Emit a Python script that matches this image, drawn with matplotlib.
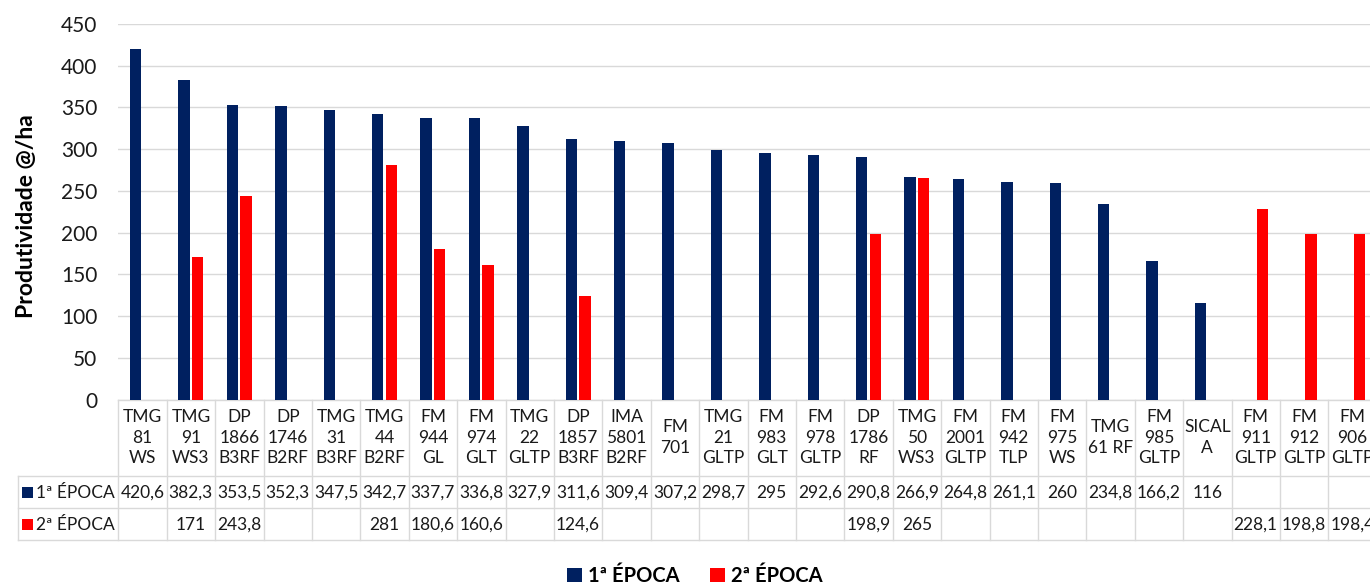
import matplotlib
matplotlib.use("Agg")
import matplotlib.pyplot as plt
import matplotlib.transforms as mtransforms
from matplotlib.patches import Patch, Rectangle
from matplotlib.lines import Line2D

plt.rcParams['font.family'] = ['Lato', 'DejaVu Sans']

categories = ["TMG\n81\nWS", "TMG\n91\nWS3", "DP\n1866\nB3RF", "DP\n1746\nB2RF", "TMG\n31\nB3RF",
              "TMG\n44\nB2RF", "FM\n944\nGL", "FM\n974\nGLT", "TMG\n22\nGLTP", "DP\n1857\nB3RF",
              "IMA\n5801\nB2RF", "FM\n701", "TMG\n21\nGLTP", "FM\n983\nGLT", "FM\n978\nGLTP",
              "DP\n1786\nRF", "TMG\n50\nWS3", "FM\n2001\nGLTP", "FM\n942\nTLP", "FM\n975\nWS",
              "TMG\n61 RF", "FM\n985\nGLTP", "SICAL\nA", "FM\n911\nGLTP", "FM\n912\nGLTP", "FM\n906\nGLTP"]
epoca1 = [420.6, 382.3, 353.5, 352.3, 347.5, 342.7, 337.7, 336.8, 327.9, 311.6, 309.4, 307.2, 298.7,
          295, 292.6, 290.8, 266.9, 264.8, 261.1, 260, 234.8, 166.2, 116, None, None, None]
epoca2 = [None, 171, 243.8, None, None, 281, 180.6, 160.6, None, 124.6, None, None, None,
          None, None, 198.9, 265, None, None, None, None, None, None, 228.1, 198.8, 198.4]
series_names = ["1ª ÉPOCA", "2ª ÉPOCA"]
yticks = [0, 50, 100, 150, 200, 250, 300, 350, 400, 450]

BLUE = "#002060"
RED = "#FF0000"
GRID = "#D9D9D9"
TXT = "#1A1A1A"

W, H = 1370, 582
fig = plt.figure(figsize=(W / 100, H / 100), dpi=100)

ax_l, ax_r, ax_t, ax_b = 118.3, 1376.7, 24.0, 399.5
ax = fig.add_axes([ax_l / W, 1 - ax_b / H, (ax_r - ax_l) / W, (ax_b - ax_t) / H])

n = len(categories)
xs = list(range(n))
bw = 0.235
off = 0.14
x1 = [x - off for x, v in zip(xs, epoca1) if v is not None]
v1 = [v for v in epoca1 if v is not None]
x2 = [x + off for x, v in zip(xs, epoca2) if v is not None]
v2 = [v for v in epoca2 if v is not None]
ax.bar(x1, v1, width=bw, color=BLUE, zorder=3)
ax.bar(x2, v2, width=bw, color=RED, zorder=3)

ax.set_xlim(-0.5, n - 0.5)
ax.set_ylim(0, 450)
ax.set_yticks(yticks)
ax.set_yticklabels([str(t) for t in yticks], fontsize=15, color=TXT)
ax.tick_params(axis='y', length=0, pad=15)
ax.set_xticks([])
ax.grid(axis='y', color=GRID, linewidth=1, zorder=0)
for s in ["left", "right", "top"]:
    ax.spines[s].set_visible(False)
ax.spines["bottom"].set_color(GRID)
ax.spines["bottom"].set_linewidth(1)
fig.text(27 / W, 1 - 216 / H, "Produtividade @/ha", rotation=90, fontsize=16.5, fontweight="bold",
         ha="center", va="center", color="#000000")

# data table
tr = mtransforms.blended_transform_factory(ax.transData, fig.transFigure)
def fy(py):
    return 1 - py / H

row_top, row1, row2, row_bot = 399.5, 476, 508, 540
lkw = dict(color=GRID, linewidth=1, clip_on=False)
for k in range(n + 1):
    fig.add_artist(Line2D([k - 0.5, k - 0.5], [fy(row_top), fy(row_bot)], transform=tr, **lkw))
for py in (row1, row2, row_bot):
    fig.add_artist(Line2D([18 / W, 1.2], [fy(py), fy(py)], transform=fig.transFigure, **lkw))
fig.add_artist(Line2D([18 / W, 18 / W], [fy(row1), fy(row_bot)], transform=fig.transFigure, **lkw))

tfs = 12.5
for k, lab in enumerate(categories):
    fig.text(k, fy((row_top + row1) / 2), lab, transform=tr, ha="center", va="center",
             fontsize=tfs, color=TXT, linespacing=1.35)

def fmt(v):
    if v is None:
        return ""
    if float(v).is_integer():
        return str(int(v))
    return ("%.1f" % v).replace(".", ",")

for vals, (ya, yb) in ((epoca1, (row1, row2)), (epoca2, (row2, row_bot))):
    for k, v in enumerate(vals):
        s = fmt(v)
        if s:
            fig.text(k, fy((ya + yb) / 2 + 1), s, transform=tr, ha="center", va="center",
                     fontsize=tfs, color=TXT)

for name, col, (ya, yb) in ((series_names[0], BLUE, (row1, row2)), (series_names[1], RED, (row2, row_bot))):
    cy = (ya + yb) / 2
    fig.add_artist(Rectangle((22 / W, fy(cy + 5.5)), 11 / W, 11 / H, transform=fig.transFigure,
                             facecolor=col, edgecolor="none"))
    fig.text(36 / W, fy(cy + 1), name, ha="left", va="center", fontsize=tfs, color=TXT)

handles = [Patch(facecolor=BLUE, edgecolor="none"), Patch(facecolor=RED, edgecolor="none")]
fig.legend(handles, series_names, loc="center", bbox_to_anchor=(694.5 / W, fy(576)), ncol=2,
           frameon=False, prop=dict(size=14.5, weight="bold"), handlelength=0.75, handleheight=0.75,
           handletextpad=0.3, columnspacing=1.5, borderpad=0, labelcolor="#000000")

fig.savefig("out.png", dpi=100)
